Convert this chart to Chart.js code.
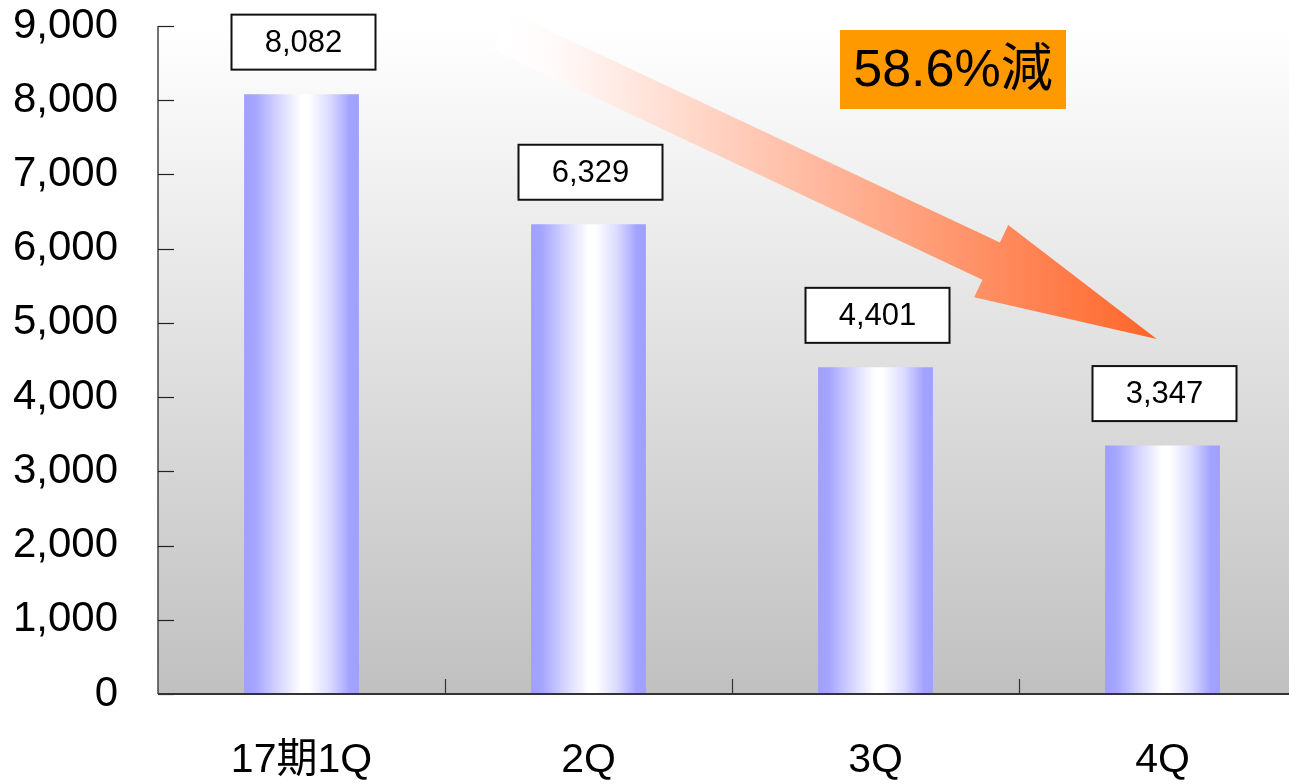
<!DOCTYPE html>
<html>
<head>
<meta charset="utf-8">
<script src="https://cdn.jsdelivr.net/npm/chart.js@4/dist/chart.umd.min.js"></script>
<style>
  html, body { margin: 0; padding: 0; background: #fff; overflow: hidden; }
  #wrap { width: 1289px; height: 784px; overflow: hidden; position: relative; }
  #box { width: 1306px; height: 784px; }
</style>
</head>
<body>
<div id="wrap"><div id="box"><canvas id="c"></canvas></div></div>
<script>
// Quarterly figures
const categories = ['17期1Q', '2Q', '3Q', '4Q'];
const values = [8082, 6329, 4401, 3347];
const yTickValues = [0, 1000, 2000, 3000, 4000, 5000, 6000, 7000, 8000, 9000];
const badgeText = '58.6%減';

const FONT = "'Liberation Sans', 'Noto Sans CJK JP', Arial, sans-serif";
Chart.defaults.font.family = FONT;
Chart.defaults.color = '#000';

const BAR_FRACTION = 0.4;

// Vertical gradient behind the plot area
const plotBackground = {
  id: 'plotBackground',
  beforeDraw(chart) {
    const { ctx, chartArea: a } = chart;
    const g = ctx.createLinearGradient(0, a.top, 0, a.bottom);
    g.addColorStop(0, '#ffffff');
    g.addColorStop(1, '#c0c0c0');
    ctx.save();
    ctx.fillStyle = g;
    ctx.fillRect(a.left, a.top, a.right - a.left, a.bottom - a.top);
    ctx.restore();
  }
};

// Downward trend arrow and the percentage badge
const trendArrow = {
  id: 'trendArrow',
  beforeDatasetsDraw(chart) {
    const { ctx, scales: { x, y } } = chart;
    const tail = { x: x.getPixelForValue(0.70), y: y.getPixelForValue(8930) };
    const tip = { x: x.getPixelForValue(2.98), y: y.getPixelForValue(4783) };
    const dx = tip.x - tail.x, dy = tip.y - tail.y;
    const len = Math.hypot(dx, dy);
    const u = { x: dx / len, y: dy / len };
    const n = { x: -u.y, y: u.x };
    const shaft = 20.5, headLen = 183, headHalf = 40;
    const P = (along, across) => [tail.x + u.x * along + n.x * across, tail.y + u.y * along + n.y * across];
    const back = len - headLen;
    const pts = [
      P(0, -shaft), P(back, -shaft), P(back, -headHalf), P(len, 0),
      P(back, headHalf), P(back, shaft), P(0, shaft)
    ];
    const g = ctx.createLinearGradient(tail.x, 0, tip.x, 0);
    g.addColorStop(0, '#ffffff');
    g.addColorStop(0.08, '#fffafa');
    g.addColorStop(1, '#ff6428');
    ctx.save();
    ctx.beginPath();
    pts.forEach((p, i) => i ? ctx.lineTo(p[0], p[1]) : ctx.moveTo(p[0], p[1]));
    ctx.closePath();
    ctx.fillStyle = g;
    ctx.fill();

    // badge
    const bx = x.getPixelForValue(2.27), by = y.getPixelForValue(8414);
    const bw = 226, bh = 79;
    ctx.fillStyle = '#ff9900';
    ctx.fillRect(bx - bw / 2, by - bh / 2, bw, bh);
    ctx.fillStyle = '#000';
    ctx.font = `52px ${FONT}`;
    ctx.textAlign = 'center';
    ctx.textBaseline = 'middle';
    ctx.fillText(badgeText, bx, by + 2);
    ctx.restore();
  }
};

// Axis lines, inward tick marks and boxed value labels
const axesAndLabels = {
  id: 'axesAndLabels',
  afterDatasetsDraw(chart) {
    const { ctx, chartArea: a, scales: { x, y } } = chart;
    ctx.save();
    // left axis
    ctx.strokeStyle = '#444';
    ctx.lineWidth = 1.5;
    ctx.beginPath();
    ctx.moveTo(a.left, a.top);
    ctx.lineTo(a.left, a.bottom);
    ctx.stroke();
    // y tick marks pointing inward
    ctx.strokeStyle = '#222';
    ctx.lineWidth = 1.2;
    yTickValues.forEach(v => {
      const py = Math.round(y.getPixelForValue(v)) + 0.5;
      ctx.beginPath();
      ctx.moveTo(a.left, py);
      ctx.lineTo(a.left + 16, py);
      ctx.stroke();
    });
    // x tick marks at category boundaries
    ctx.strokeStyle = '#333';
    for (let i = 0; i < categories.length - 1; i++) {
      const px = Math.round((x.getPixelForValue(i) + x.getPixelForValue(i + 1)) / 2) + 0.5;
      ctx.beginPath();
      ctx.moveTo(px, a.bottom);
      ctx.lineTo(px, a.bottom - 15);
      ctx.stroke();
    }
    // bottom axis
    ctx.strokeStyle = '#333';
    ctx.lineWidth = 2;
    ctx.beginPath();
    ctx.moveTo(a.left, a.bottom);
    ctx.lineTo(a.right, a.bottom);
    ctx.stroke();

    // value boxes above bars
    const meta = chart.getDatasetMeta(0);
    ctx.font = `31px ${FONT}`;
    ctx.textAlign = 'center';
    ctx.textBaseline = 'middle';
    meta.data.forEach((bar, i) => {
      const w = 144, h = 55;
      const cx = bar.x + 2, cy = bar.y - 52;
      ctx.fillStyle = '#fff';
      ctx.fillRect(cx - w / 2, cy - h / 2, w, h);
      ctx.strokeStyle = '#111';
      ctx.lineWidth = 2;
      ctx.strokeRect(cx - w / 2, cy - h / 2, w, h);
      ctx.fillStyle = '#000';
      ctx.fillText(values[i].toLocaleString('en-US'), cx, cy + 1);
    });
    ctx.restore();
  }
};

function barFill(c) {
  const chart = c.chart;
  const xs = chart.scales.x;
  if (!xs || !chart.chartArea) return '#a0a0ff';
  const cx = xs.getPixelForValue(c.dataIndex);
  const half = (xs.width / categories.length) * BAR_FRACTION / 2;
  const g = chart.ctx.createLinearGradient(cx - half, 0, cx + half, 0);
  g.addColorStop(0, '#9f9fff');
  g.addColorStop(0.1, '#a6a6ff');
  g.addColorStop(0.3, '#d6d6ff');
  g.addColorStop(0.5, '#ffffff');
  g.addColorStop(0.56, '#ffffff');
  g.addColorStop(0.75, '#dadaff');
  g.addColorStop(0.92, '#a3a3ff');
  g.addColorStop(1, '#9f9fff');
  return g;
}

new Chart(document.getElementById('c'), {
  type: 'bar',
  data: {
    labels: categories,
    datasets: [{
      data: values,
      backgroundColor: barFill,
      borderWidth: 0,
      categoryPercentage: 1,
      barPercentage: BAR_FRACTION
    }]
  },
  options: {
    responsive: true,
    maintainAspectRatio: false,
    animation: false,
    layout: { padding: { top: 26, left: 0, right: 0, bottom: 0 } },
    plugins: { legend: { display: false }, tooltip: { enabled: false } },
    scales: {
      x: {
        grid: { display: false, drawTicks: false },
        border: { display: false },
        ticks: { font: { size: 41 }, color: '#000', padding: 42, maxRotation: 0 },
        afterFit: s => { s.height = 90; s.paddingLeft = 0; s.paddingRight = 0; }
      },
      y: {
        min: 0,
        max: 9000,
        grid: { display: false, drawTicks: false },
        border: { display: false },
        ticks: { stepSize: 1000, font: { size: 42 }, color: '#000', padding: 40 },
        afterFit: s => { s.width = 158; s.paddingTop = 0; s.paddingBottom = 0; }
      }
    }
  },
  plugins: [plotBackground, trendArrow, axesAndLabels]
});
</script>
</body>
</html>
